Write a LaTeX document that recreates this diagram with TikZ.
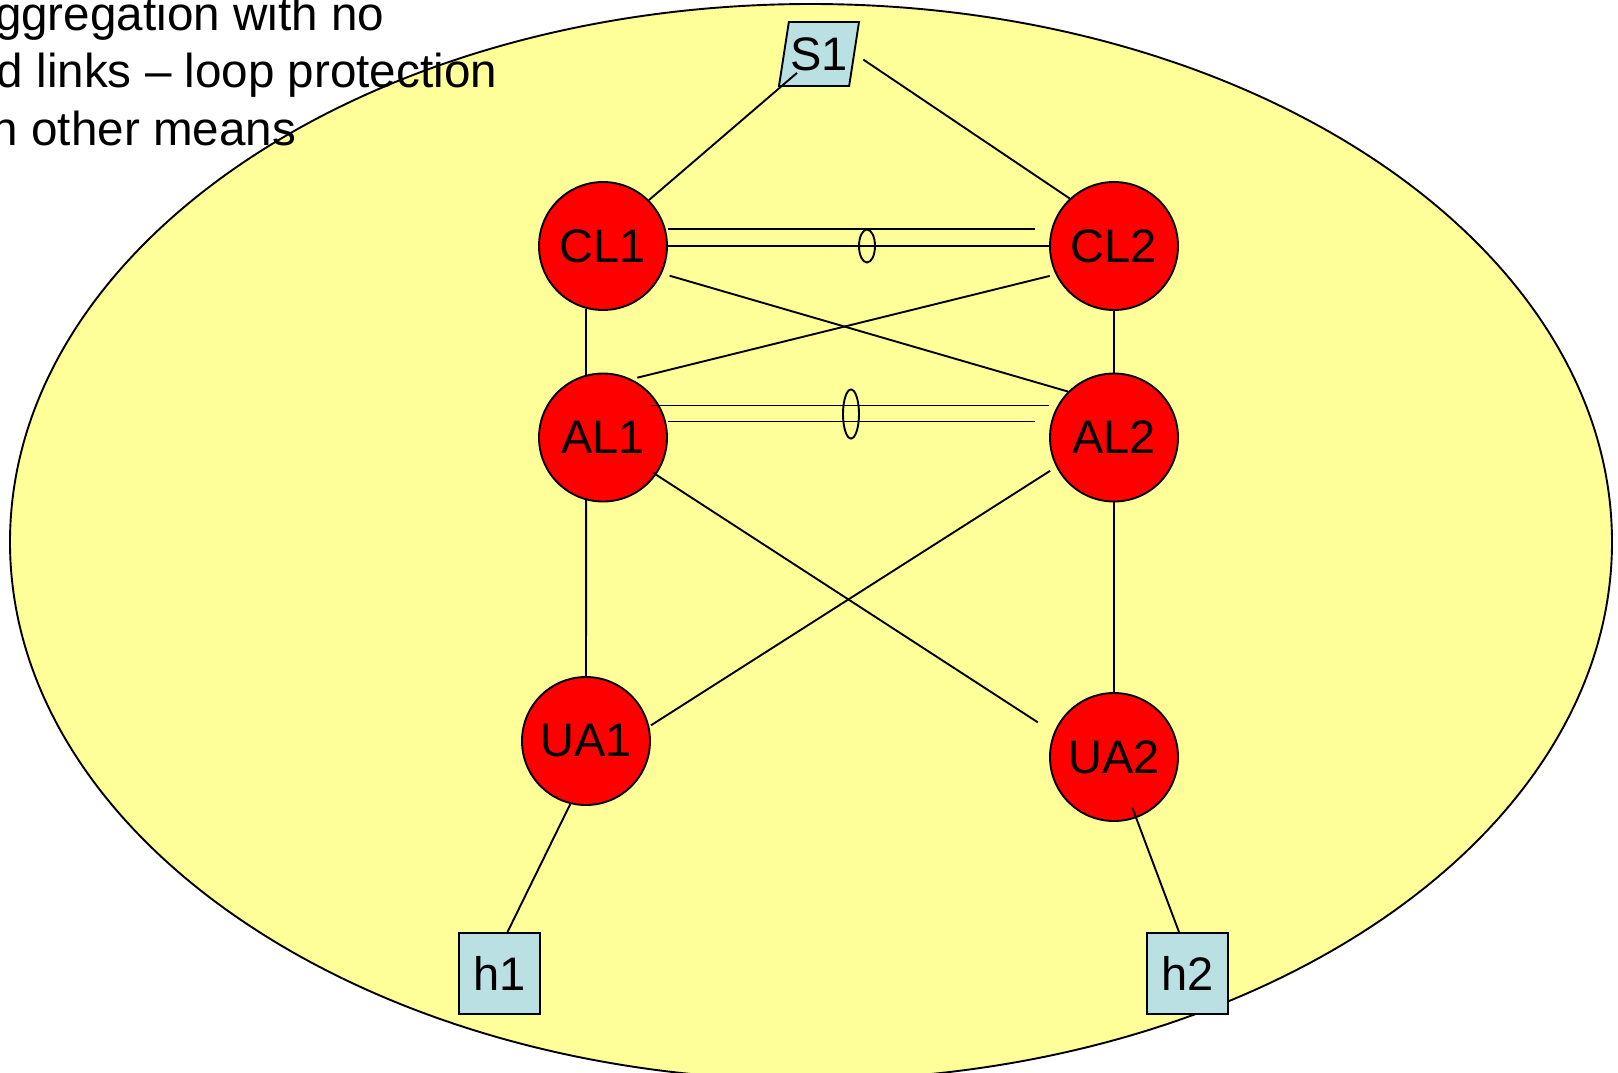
\documentclass[tikz,border=0pt]{standalone}
\usepackage{fontspec}
\setmainfont{Liberation Sans}
\usetikzlibrary{shapes.geometric}
\definecolor{cloud}{RGB}{255,255,153}
\definecolor{hostfill}{RGB}{187,224,227}
\begin{document}
\begin{tikzpicture}[x=1pt,y=-1pt,line width=1.9pt]
\tikzstyle{router}=[circle, draw, fill=red, minimum size=128pt, inner sep=0pt, font=\fontsize{47}{47}\selectfont]
\tikzstyle{host}=[rectangle, draw, fill=hostfill, minimum size=81pt, inner sep=0pt, font=\fontsize{47}{47}\selectfont]
\tikzstyle{switch}=[trapezium, trapezium left angle=73.5, trapezium right angle=106.5, trapezium stretches body, draw, fill=hostfill, minimum width=80pt, minimum height=64pt, inner sep=0pt, font=\fontsize{47}{47}\selectfont]
\tikzstyle{note}=[anchor=base east, inner sep=0pt, font=\fontsize{47.6}{57}\selectfont]
\clip (0,0) rectangle (1618,1072);
\draw[fill=cloud] (811,542) ellipse [x radius=801, y radius=538];
\draw (819,54) node (S1) [switch] {S1};
\draw (603,246) node (CL1) [router] {CL1};
\draw (1114,246) node (CL2) [router] {CL2};
\draw (603,437.5) node (AL1) [router] {AL1};
\draw (1114,437.5) node (AL2) [router] {AL2};
\draw (586,741) node (UA1) [router] {UA1};
\draw (1114,757) node (UA2) [router] {UA2};
\draw (499.5,973.5) node (h1) [host] {h1};
\draw (1187.5,973.5) node (h2) [host] {h2};
\draw[shorten >=29pt] (CL1.45) -- (S1.center);
\draw[shorten <=10pt] (S1.east) -- (CL2.133);
\draw (CL1.east) -- (CL2.west);
\draw ([yshift=16.6pt]CL1.east) -- ([xshift=-14pt,yshift=16.6pt]CL2.west);
\draw (867,246) ellipse [x radius=8, y radius=16.5];
\draw ([xshift=-17pt,yshift=32pt]AL1.east) -- ([yshift=32pt]AL2.west);
\draw ([yshift=16pt]AL1.east) -- ([xshift=-14pt,yshift=16pt]AL2.west);
\draw (851,414) ellipse [x radius=8, y radius=24.5];
\draw[shorten <=8pt] (CL1.-25) -- (AL2.135);
\draw[shorten <=6pt, shorten >=6pt] (CL2.206) -- (AL1.64);
\draw (CL1.255) -- (AL1.105);
\draw (CL2.south) -- (AL2.north);
\draw (AL1.255) -- (UA1.north);
\draw (AL2.south) -- (UA2.north);
\draw[shorten <=-4pt, shorten >=19pt] (AL1.-35) -- (UA2.158);
\draw[shorten <=7pt, shorten >=2pt] (AL2.207) -- (UA1.13);
\draw (UA1.256) -- ([xshift=8pt]h1.north);
\draw[shorten <=-11pt] (UA2.-70) -- ([xshift=-8.5pt]h2.north);
\node[note] (line1) at (385,30) {ggregation with no};
\node[note] (line2) at (498,87) {d links – loop protection};
\node[note] (line3) at (297,145.5) {n other means};
\end{tikzpicture}
\end{document}
